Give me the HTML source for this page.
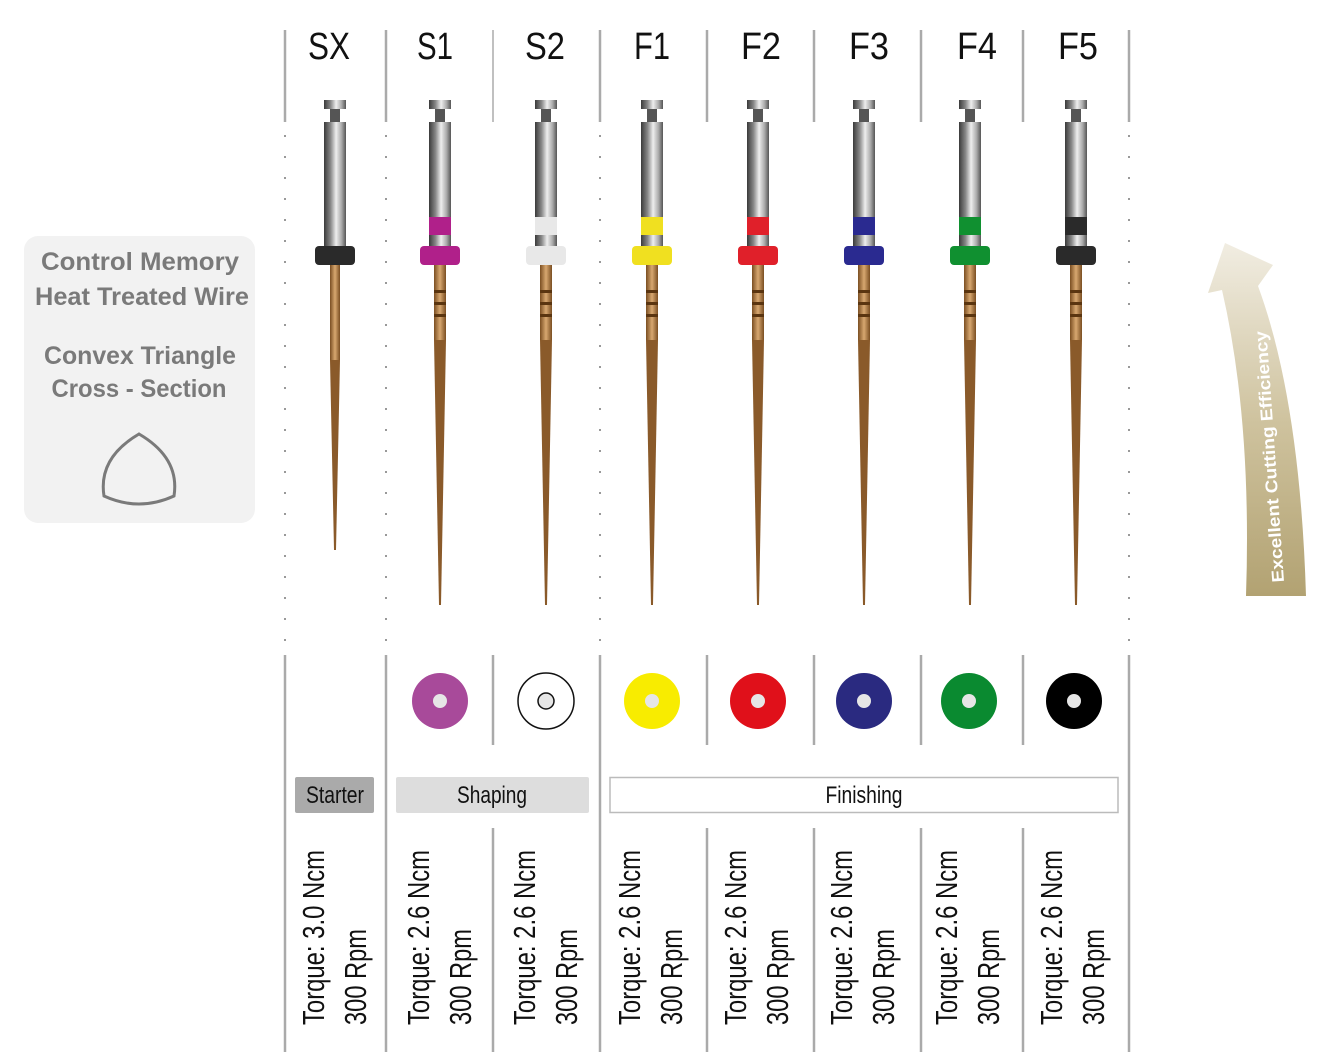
<!DOCTYPE html>
<html><head><meta charset="utf-8"><style>
html,body{margin:0;padding:0;background:#fff;}
svg{display:block;}
.hd{font-family:"Liberation Sans",sans-serif;font-size:38px;fill:#111;}
.tq{font-family:"Liberation Sans",sans-serif;font-size:31px;fill:#111;}
.lb{font-family:"Liberation Sans",sans-serif;font-size:24px;fill:#111;}
.pn{font-family:"Liberation Sans",sans-serif;font-size:25px;font-weight:bold;fill:#7a7a7a;}
</style></head><body>
<svg width="1325" height="1052" viewBox="0 0 1325 1052" xmlns="http://www.w3.org/2000/svg">
<defs>
<linearGradient id="sil" x1="0" x2="1"><stop offset="0" stop-color="#3a3a3a"/><stop offset="0.3" stop-color="#888"/><stop offset="0.55" stop-color="#eee"/><stop offset="0.8" stop-color="#aaa"/><stop offset="1" stop-color="#555"/></linearGradient>
<linearGradient id="gold" x1="0" x2="1"><stop offset="0" stop-color="#7a4e22"/><stop offset="0.5" stop-color="#d8a870"/><stop offset="1" stop-color="#7a4e22"/></linearGradient>
<linearGradient id="arr" x1="0" y1="0" x2="0" y2="1"><stop offset="0" stop-color="#f1ede2"/><stop offset="0.5" stop-color="#cfc39f"/><stop offset="1" stop-color="#b2a272"/></linearGradient>
<g id="top">
<rect x="-11" y="100" width="22" height="9" fill="url(#sil)"/>
<rect x="-5" y="109" width="10" height="13" fill="#555"/>
<rect x="-11" y="122" width="22" height="124" fill="url(#sil)"/>
</g>
<g id="file">
<use href="#top"/>
<rect x="-11" y="217" width="22" height="18" fill="currentColor"/>
<rect x="-20" y="246" width="40" height="19" rx="4" fill="currentColor"/>
<rect x="-6" y="265" width="12" height="75" fill="url(#gold)"/>
<rect x="-6" y="290" width="12" height="3" fill="#5a3510"/><rect x="-6" y="302" width="12" height="3" fill="#5a3510"/><rect x="-6" y="314" width="12" height="3" fill="#5a3510"/>
<polygon points="-6,340 6,340 1,605 -1,605" fill="#8a5a2a"/>
</g>
</defs>

<rect x="24" y="236" width="231" height="287" rx="14" fill="#f2f2f2"/>
<text class="pn" x="140" y="270" text-anchor="middle" textLength="198" lengthAdjust="spacingAndGlyphs">Control Memory</text>
<text class="pn" x="142" y="305" text-anchor="middle" textLength="214" lengthAdjust="spacingAndGlyphs">Heat Treated Wire</text>
<text class="pn" x="140" y="364" text-anchor="middle" textLength="192" lengthAdjust="spacingAndGlyphs">Convex Triangle</text>
<text class="pn" x="139" y="397" text-anchor="middle" textLength="175" lengthAdjust="spacingAndGlyphs">Cross - Section</text>
<path d="M139,434 Q180,458 174,496 Q139,512 104,496 Q98,458 139,434 Z" fill="none" stroke="#7a7a7a" stroke-width="3"/>

<g stroke="#aaa" stroke-width="2.5">
<line x1="285" y1="30" x2="285" y2="122"/><line x1="386" y1="30" x2="386" y2="122"/><line x1="493" y1="30" x2="493" y2="122" stroke-width="1.5"/>
<line x1="600" y1="30" x2="600" y2="122"/><line x1="707" y1="30" x2="707" y2="122"/><line x1="814" y1="30" x2="814" y2="122"/>
<line x1="921" y1="30" x2="921" y2="122"/><line x1="1023" y1="30" x2="1023" y2="122"/><line x1="1129" y1="30" x2="1129" y2="122"/>
<line x1="285" y1="655" x2="285" y2="1052"/><line x1="386" y1="655" x2="386" y2="1052"/>
<line x1="493" y1="655" x2="493" y2="745"/><line x1="493" y1="828" x2="493" y2="1052"/>
<line x1="600" y1="655" x2="600" y2="1052"/>
<line x1="707" y1="655" x2="707" y2="745"/><line x1="707" y1="828" x2="707" y2="1052"/>
<line x1="814" y1="655" x2="814" y2="745"/><line x1="814" y1="828" x2="814" y2="1052"/>
<line x1="921" y1="655" x2="921" y2="745"/><line x1="921" y1="828" x2="921" y2="1052"/>
<line x1="1023" y1="655" x2="1023" y2="745"/><line x1="1023" y1="828" x2="1023" y2="1052"/>
<line x1="1129" y1="655" x2="1129" y2="1052"/>
</g>
<g stroke="#999" stroke-width="2" stroke-dasharray="2,19">
<line x1="285" y1="135" x2="285" y2="645"/><line x1="386" y1="135" x2="386" y2="645"/><line x1="600" y1="135" x2="600" y2="645"/><line x1="1129" y1="135" x2="1129" y2="645"/>
</g>

<g class="hd" text-anchor="middle">
<text x="329" y="59" textLength="42" lengthAdjust="spacingAndGlyphs">SX</text>
<text x="435" y="59" textLength="36" lengthAdjust="spacingAndGlyphs">S1</text>
<text x="545" y="59" textLength="40" lengthAdjust="spacingAndGlyphs">S2</text>
<text x="652" y="59" textLength="36" lengthAdjust="spacingAndGlyphs">F1</text>
<text x="761" y="59" textLength="40" lengthAdjust="spacingAndGlyphs">F2</text>
<text x="869" y="59" textLength="40" lengthAdjust="spacingAndGlyphs">F3</text>
<text x="977" y="59" textLength="40" lengthAdjust="spacingAndGlyphs">F4</text>
<text x="1078" y="59" textLength="40" lengthAdjust="spacingAndGlyphs">F5</text>
</g>

<g transform="translate(335,0)">
<use href="#top"/>
<rect x="-20" y="246" width="40" height="19" rx="4" fill="#2a2a2a"/>
<rect x="-5" y="265" width="10" height="95" fill="url(#gold)"/>
<polygon points="-5,360 5,360 1,550 -1,550" fill="#8a5a2a"/>
</g>
<use href="#file" transform="translate(440,0)" style="color:#b0208a"/>
<use href="#file" transform="translate(546,0)" style="color:#e8e8e8"/>
<use href="#file" transform="translate(652,0)" style="color:#f0e020"/>
<use href="#file" transform="translate(758,0)" style="color:#e0202a"/>
<use href="#file" transform="translate(864,0)" style="color:#2a2a90"/>
<use href="#file" transform="translate(970,0)" style="color:#109030"/>
<use href="#file" transform="translate(1076,0)" style="color:#2a2a2a"/>

<path d="M1246,596 L1306,596 Q1300,400 1258,286 L1273,265 L1225,243 L1208,293 L1222,290 Q1252,420 1246,596 Z" fill="url(#arr)"/>
<text x="0" y="0" transform="translate(1284,582) rotate(-94)" font-family="Liberation Sans,sans-serif" font-size="17" font-weight="bold" fill="#fff" textLength="252" lengthAdjust="spacingAndGlyphs">Excellent Cutting Efficiency</text>

<circle cx="440" cy="701" r="28" fill="#a84a9a"/><circle cx="440" cy="701" r="7" fill="#e6e6e6"/>
<circle cx="546" cy="701" r="28" fill="#fff" stroke="#111" stroke-width="1.5"/><circle cx="546" cy="701" r="8" fill="#e6e6e6" stroke="#111" stroke-width="1.5"/>
<circle cx="652" cy="701" r="28" fill="#f8ec00"/><circle cx="652" cy="701" r="7" fill="#e6e6e6"/>
<circle cx="758" cy="701" r="28" fill="#e0101a"/><circle cx="758" cy="701" r="7" fill="#e6e6e6"/>
<circle cx="864" cy="701" r="28" fill="#2a2a80"/><circle cx="864" cy="701" r="7" fill="#e6e6e6"/>
<circle cx="969" cy="701" r="28" fill="#0a8a30"/><circle cx="969" cy="701" r="7" fill="#e6e6e6"/>
<circle cx="1074" cy="701" r="28" fill="#000"/><circle cx="1074" cy="701" r="7" fill="#e6e6e6"/>

<rect x="295" y="777" width="79" height="36" rx="2" fill="#aaa"/>
<text class="lb" x="335" y="803" text-anchor="middle" textLength="58" lengthAdjust="spacingAndGlyphs">Starter</text>
<rect x="396" y="777" width="193" height="36" rx="2" fill="#ddd"/>
<text class="lb" x="492" y="803" text-anchor="middle" textLength="70" lengthAdjust="spacingAndGlyphs">Shaping</text>
<rect x="610" y="777.5" width="508" height="35" fill="#fff" stroke="#bbb" stroke-width="1.5"/>
<text class="lb" x="864" y="803" text-anchor="middle" textLength="77" lengthAdjust="spacingAndGlyphs">Finishing</text>

<g class="tq">
<g transform="translate(324,1025) rotate(-90)"><text x="0" y="0" textLength="175" lengthAdjust="spacingAndGlyphs">Torque: 3.0 Ncm</text><text x="0" y="42" textLength="96" lengthAdjust="spacingAndGlyphs">300 Rpm</text></g>
<g transform="translate(429,1025) rotate(-90)"><text x="0" y="0" textLength="175" lengthAdjust="spacingAndGlyphs">Torque: 2.6 Ncm</text><text x="0" y="42" textLength="96" lengthAdjust="spacingAndGlyphs">300 Rpm</text></g>
<g transform="translate(535,1025) rotate(-90)"><text x="0" y="0" textLength="175" lengthAdjust="spacingAndGlyphs">Torque: 2.6 Ncm</text><text x="0" y="42" textLength="96" lengthAdjust="spacingAndGlyphs">300 Rpm</text></g>
<g transform="translate(640,1025) rotate(-90)"><text x="0" y="0" textLength="175" lengthAdjust="spacingAndGlyphs">Torque: 2.6 Ncm</text><text x="0" y="42" textLength="96" lengthAdjust="spacingAndGlyphs">300 Rpm</text></g>
<g transform="translate(746,1025) rotate(-90)"><text x="0" y="0" textLength="175" lengthAdjust="spacingAndGlyphs">Torque: 2.6 Ncm</text><text x="0" y="42" textLength="96" lengthAdjust="spacingAndGlyphs">300 Rpm</text></g>
<g transform="translate(852,1025) rotate(-90)"><text x="0" y="0" textLength="175" lengthAdjust="spacingAndGlyphs">Torque: 2.6 Ncm</text><text x="0" y="42" textLength="96" lengthAdjust="spacingAndGlyphs">300 Rpm</text></g>
<g transform="translate(957,1025) rotate(-90)"><text x="0" y="0" textLength="175" lengthAdjust="spacingAndGlyphs">Torque: 2.6 Ncm</text><text x="0" y="42" textLength="96" lengthAdjust="spacingAndGlyphs">300 Rpm</text></g>
<g transform="translate(1062,1025) rotate(-90)"><text x="0" y="0" textLength="175" lengthAdjust="spacingAndGlyphs">Torque: 2.6 Ncm</text><text x="0" y="42" textLength="96" lengthAdjust="spacingAndGlyphs">300 Rpm</text></g>
</g>
</svg>
</body></html>
